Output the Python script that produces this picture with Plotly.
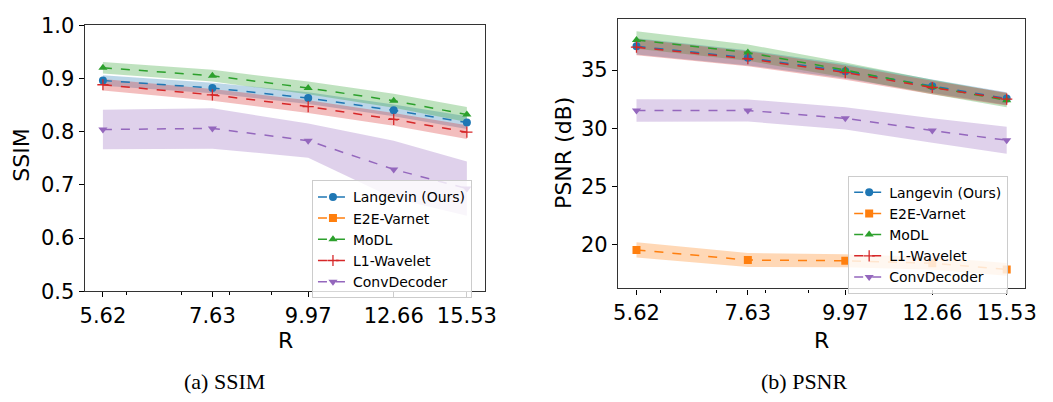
import plotly.graph_objects as go

# ---------------- data ----------------
R_values = [5.62, 7.63, 9.97, 12.66, 15.53]
R_labels = ["5.62", "7.63", "9.97", "12.66", "15.53"]
methods = ["Langevin (Ours)", "E2E-Varnet", "MoDL", "L1-Wavelet", "ConvDecoder"]

ssim_mean = {
    "Langevin (Ours)": [0.896, 0.882, 0.863, 0.840, 0.817],
    "E2E-Varnet": [None, None, None, None, None],
    "MoDL": [0.920, 0.905, 0.882, 0.858, 0.832],
    "L1-Wavelet": [0.888, 0.869, 0.847, 0.823, 0.799],
    "ConvDecoder": [0.804, 0.806, 0.783, 0.729, 0.693],
}
ssim_std = {
    "Langevin (Ours)": [0.010, 0.010, 0.011, 0.011, 0.012],
    "E2E-Varnet": [None, None, None, None, None],
    "MoDL": [0.011, 0.011, 0.012, 0.013, 0.014],
    "L1-Wavelet": [0.011, 0.011, 0.012, 0.012, 0.013],
    "ConvDecoder": [0.037, 0.038, 0.032, 0.054, 0.051],
}
psnr_mean = {
    "Langevin (Ours)": [37.04, 36.05, 34.90, 33.60, 32.55],
    "E2E-Varnet": [19.55, 18.68, 18.62, 18.40, 17.87],
    "MoDL": [37.58, 36.50, 35.00, 33.55, 32.40],
    "L1-Wavelet": [36.96, 35.97, 34.78, 33.50, 32.50],
    "ConvDecoder": [31.53, 31.53, 30.85, 29.80, 28.97],
}
psnr_std = {
    "Langevin (Ours)": [0.70, 0.65, 0.62, 0.58, 0.55],
    "E2E-Varnet": [0.65, 0.60, 0.55, 0.55, 0.55],
    "MoDL": [0.76, 0.70, 0.65, 0.62, 0.60],
    "L1-Wavelet": [0.70, 0.65, 0.62, 0.58, 0.55],
    "ConvDecoder": [0.97, 0.95, 0.95, 1.05, 1.15],
}

# ---------------- style ----------------
colors = {
    "Langevin (Ours)": (31, 119, 180),
    "E2E-Varnet": (255, 127, 14),
    "MoDL": (44, 160, 44),
    "L1-Wavelet": (214, 39, 40),
    "ConvDecoder": (148, 103, 189),
}
symbols = {
    "Langevin (Ours)": "circle",
    "E2E-Varnet": "square",
    "MoDL": "triangle-up",
    "L1-Wavelet": "cross-thin",
    "ConvDecoder": "triangle-down",
}
msize = {"Langevin (Ours)": 8, "E2E-Varnet": 8, "MoDL": 8, "L1-Wavelet": 8, "ConvDecoder": 8}

W, H = 1053, 402
TICK_FONT = dict(family="DejaVu Sans", size=21, color="black")
fig = go.Figure()


def add_panel(mean, std, xa, ya, legend_name):
    for m in methods:
        mu, sd = mean[m], std[m]
        if mu[0] is None:
            continue
        up = [a + b for a, b in zip(mu, sd)]
        lo = [a - b for a, b in zip(mu, sd)]
        r, g, b = colors[m]
        fig.add_trace(go.Scatter(
            x=R_values + R_values[::-1], y=up + lo[::-1],
            fill="toself", fillcolor=f"rgba({r},{g},{b},0.3)",
            line=dict(width=0), mode="lines", hoverinfo="skip",
            showlegend=False, xaxis=xa, yaxis=ya))
    for m in methods:
        r, g, b = colors[m]
        c = f"rgb({r},{g},{b})"
        mk = dict(symbol=symbols[m], size=msize[m], color=c)
        if symbols[m] == "cross-thin":
            mk["line"] = dict(color=c, width=1.3)
        fig.add_trace(go.Scatter(
            x=R_values if mean[m][0] is not None else [None],
            y=mean[m] if mean[m][0] is not None else [None],
            mode="lines+markers", name=m,
            line=dict(color=c, width=1.5, dash="dash"),
            marker=mk, legend=legend_name, xaxis=xa, yaxis=ya))


add_panel(ssim_mean, ssim_std, "x", "y", "legend")
add_panel(psnr_mean, psnr_std, "x2", "y2", "legend2")

xrange_log = [0.72762, 1.21330]
xcommon = dict(
    type="log", range=xrange_log, tickvals=R_values, ticktext=R_labels,
    tickfont=TICK_FONT, ticks="outside", ticklen=5, tickwidth=1, tickcolor="black",
    showline=True, linecolor="#333", linewidth=1.2, mirror=True, showgrid=False,
    zeroline=False,
    minor=dict(tickvals=[6, 7, 8, 9], ticks="outside", ticklen=3, tickcolor="black", showgrid=False),
)
ycommon = dict(
    tickfont=TICK_FONT, ticks="outside", ticklen=5, tickwidth=1, tickcolor="black",
    showline=True, linecolor="#333", linewidth=1.2, mirror=True, showgrid=False,
    zeroline=False,
)

legend_common = dict(
    bgcolor="rgba(255,255,255,0.8)", bordercolor="#cccccc", borderwidth=1,
    font=dict(family="DejaVu Sans", size=14, color="black"),
    xanchor="left", yanchor="top", traceorder="normal", itemwidth=30,
)

fig.update_layout(
    width=W, height=H, margin=dict(l=0, r=0, t=0, b=0),
    paper_bgcolor="white", plot_bgcolor="white",
    xaxis=dict(domain=[81 / W, 488 / W], anchor="y", **xcommon),
    yaxis=dict(domain=[1 - 297 / H, 1 - 14 / H], anchor="x", range=[0.5, 1.0],
               tickvals=[0.5, 0.6, 0.7, 0.8, 0.9, 1.0], ticktext=["0.5", "0.6", "0.7", "0.8", "0.9", "1.0"],
               **ycommon),
    xaxis2=dict(domain=[623 / W, 1037 / W], anchor="y2", **xcommon),
    yaxis2=dict(domain=[1 - 294 / H, 1 - 7 / H], anchor="x2", range=[16.24, 39.42],
                tickvals=[20, 25, 30, 35], **ycommon),
    legend=dict(x=312 / W, y=1 - 179 / H, **legend_common),
    legend2=dict(x=857 / W, y=1 - 174 / H, **legend_common),
    showlegend=True,
)

ann_font = dict(family="DejaVu Sans", size=22, color="black")
cap_font = dict(family="Liberation Serif", size=22, color="black")
anns = [
    dict(text="SSIM", x=17 / W, y=1 - 152 / H, textangle=-90, font=ann_font),
    dict(text="PSNR (dB)", x=567 / W, y=1 - 150 / H, textangle=-90, font=ann_font),
    dict(text="R", x=285 / W, y=1 - 349 / H, font=ann_font),
    dict(text="R", x=830 / W, y=1 - 349 / H, font=ann_font),
    dict(text="(a) SSIM", x=223 / W, y=1 - 393 / H, font=cap_font),
    dict(text="(b) PSNR", x=813 / W, y=1 - 393 / H, font=cap_font),
]
for a in anns:
    fig.add_annotation(xref="paper", yref="paper", showarrow=False,
                       xanchor="center", yanchor="middle", **a)

fig.write_html("out.html")
